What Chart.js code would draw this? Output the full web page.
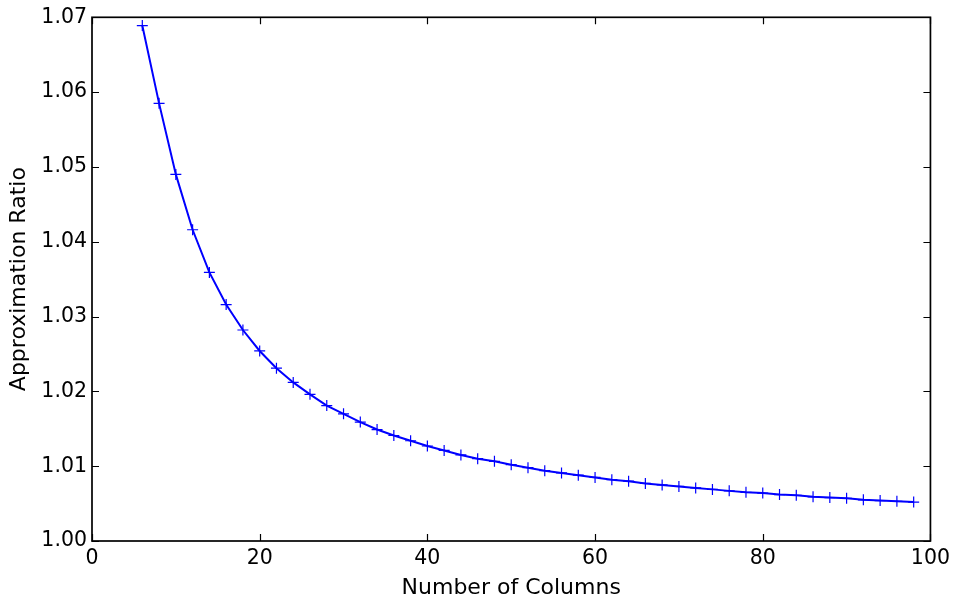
<!DOCTYPE html>
<html>
<head>
<meta charset="utf-8">
<script src="https://cdn.jsdelivr.net/npm/chart.js@4/dist/chart.umd.min.js"></script>
<style>
  html, body { margin: 0; padding: 0; background: #ffffff; }
  #wrap { width: 955px; height: 601px; }
</style>
</head>
<body>
<div id="wrap"><canvas id="c" width="955" height="601"></canvas></div>
<script>
const columns = [6, 8, 10, 12, 14, 16, 18, 20, 22, 24, 26, 28, 30, 32, 34, 36, 38, 40, 42, 44, 46, 48,
                 50, 52, 54, 56, 58, 60, 62, 64, 66, 68, 70, 72, 74, 76, 78, 80, 82, 84, 86, 88, 90, 92, 94, 96, 98];
const ratios = [1.0689, 1.0585, 1.0490, 1.0416, 1.0359, 1.0316, 1.0282, 1.0254, 1.0231, 1.0212, 1.0196,
                1.0181, 1.0170, 1.0159, 1.0149, 1.0141, 1.0134, 1.0127, 1.0121, 1.0115, 1.0110, 1.01065,
                1.0102, 1.0098, 1.0094, 1.0091, 1.0088, 1.0085, 1.0082, 1.0080, 1.0077, 1.0075, 1.0073,
                1.0071, 1.0069, 1.0067, 1.0065, 1.0064, 1.0062, 1.0061, 1.0059, 1.0058, 1.0057, 1.0055,
                1.0054, 1.0053, 1.0052];
const xTicks = [0, 20, 40, 60, 80, 100];
const yTicks = [1.00, 1.01, 1.02, 1.03, 1.04, 1.05, 1.06, 1.07];
const xTitle = 'Number of Columns';
const yTitle = 'Approximation Ratio';

const FONT = 'DejaVu Sans';

const framePlugin = {
  id: 'frame',
  afterDatasetsDraw(chart) {
    const ctx = chart.ctx;
    const a = chart.chartArea;
    const xs = chart.scales.x, ys = chart.scales.y;
    const L = 7;
    ctx.save();
    ctx.strokeStyle = '#000000';
    ctx.lineWidth = 1.2;
    ctx.beginPath();
    xs.ticks.forEach(t => {
      const px = Math.round(xs.getPixelForValue(t.value)) + 0.5;
      ctx.moveTo(px, a.bottom); ctx.lineTo(px, a.bottom - L);
      ctx.moveTo(px, a.top); ctx.lineTo(px, a.top + L);
    });
    ys.ticks.forEach(t => {
      const py = Math.round(ys.getPixelForValue(t.value)) + 0.5;
      ctx.moveTo(a.left, py); ctx.lineTo(a.left + L, py);
      ctx.moveTo(a.right, py); ctx.lineTo(a.right - L, py);
    });
    ctx.stroke();
    ctx.lineWidth = 1.7;
    ctx.strokeRect(a.left, a.top, a.right - a.left, a.bottom - a.top);
    ctx.restore();
  }
};

new Chart(document.getElementById('c'), {
  type: 'line',
  data: {
    datasets: [{
      data: columns.map((c, i) => ({ x: c, y: ratios[i] })),
      borderColor: '#0000ff',
      borderWidth: 2,
      backgroundColor: '#0000ff',
      pointStyle: 'cross',
      pointRadius: 5.5,
      pointBorderWidth: 1.2,
      pointBorderColor: '#0000ff',
      tension: 0,
      fill: false
    }]
  },
  options: {
    responsive: false,
    animation: false,
    layout: { padding: { left: 0, top: 17, right: 24, bottom: 0 } },
    plugins: { legend: { display: false }, tooltip: { enabled: false } },
    scales: {
      x: {
        type: 'linear',
        min: 0, max: 100,
        afterBuildTicks: s => { s.ticks = xTicks.map(v => ({ value: v })); },
        afterFit: s => { s.height = 60; },
        grid: { display: false, drawTicks: false },
        border: { display: false },
        ticks: { color: '#000000', font: { family: FONT, size: 20.5 }, padding: 5, maxRotation: 0,
                 callback: v => String(v) },
        title: { display: true, text: xTitle, color: '#000000', font: { family: FONT, size: 22 },
                 padding: { top: 0, bottom: 0 } }
      },
      y: {
        type: 'linear',
        min: 1.0, max: 1.07,
        afterBuildTicks: s => { s.ticks = yTicks.map(v => ({ value: v })); },
        afterFit: s => { s.width = 92; },
        grid: { display: false, drawTicks: false },
        border: { display: false },
        ticks: { color: '#000000', font: { family: FONT, size: 20.5 }, padding: 5,
                 callback: v => Number(v).toFixed(2) },
        title: { display: true, text: yTitle, color: '#000000', font: { family: FONT, size: 22 },
                 padding: { top: 6.5, bottom: 6.5 } }
      }
    }
  },
  plugins: [framePlugin]
});
</script>
</body>
</html>
